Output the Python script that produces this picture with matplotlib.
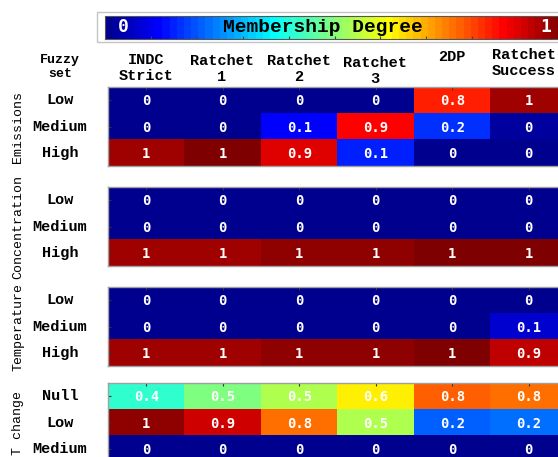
"""Fuzzy membership degrees per scenario, drawn as stacked heatmap panels."""
import numpy as np
import matplotlib
matplotlib.use("Agg")
import matplotlib.pyplot as plt
from matplotlib.colors import ListedColormap
from matplotlib.patches import Rectangle

# ---- Data ----
COLUMNS = ["INDC\nStrict", "Ratchet\n1", "Ratchet\n2", "Ratchet\n3", "2DP", "Ratchet\nSuccess"]
GROUPS = ["Emissions", "Concentration", "Temperature", "T change"]
ROW_SETS = [
    ["Low", "Medium", "High"],
    ["Low", "Medium", "High"],
    ["Low", "Medium", "High"],
    ["Null", "Low", "Medium"],
]
emissions = [
    [0, 0, 0, 0, 0.83, 0.96],
    [0, 0, 0.12, 0.86, 0.17, 0.02],
    [0.96, 1.0, 0.9, 0.147, 0, 0],
]
concentration = [
    [0, 0, 0, 0, 0, 0],
    [0, 0, 0, 0, 0, 0],
    [0.96, 0.96, 0.975, 0.975, 1.0, 1.0],
]
temperature = [
    [0, 0, 0, 0, 0, 0],
    [0, 0, 0, 0, 0, 0.07],
    [0.96, 0.96, 0.975, 0.975, 1.0, 0.93],
]
t_change = [
    [0.41, 0.49, 0.54, 0.63, 0.77, 0.76],
    [0.975, 0.91, 0.76, 0.54, 0.21, 0.22],
    [0, 0, 0, 0, 0, 0],
]
PANELS = [emissions, concentration, temperature, t_change]

# ---- Layout (pixels) ----
W, H = 558, 457
LEFT, COL_W, ROW_H = 108, 76.5, 26.4
PANEL_TOP = [87, 187, 287, 383]
HEAD_X = [146, 222, 299, 375, 452, 524]
HEAD_Y = [68, 69, 69, 71, 57, 63]
LABEL_FONT = "Liberation Mono"
NUM_FONT = "DejaVu Sans Mono"


def matlab_jet(m=64):
    n = int(np.ceil(m / 4))
    u = np.concatenate([np.arange(1, n + 1) / n, np.ones(n - 1), np.arange(n, 0, -1) / n])
    g = int(np.ceil(n / 2)) - (1 if m % 4 == 1 else 0) + np.arange(1, len(u) + 1)
    r = g + n
    b = g - n
    J = np.zeros((m, 3))
    J[r[r <= m] - 1, 0] = u[r <= m]
    J[g[g <= m] - 1, 1] = u[g <= m]
    J[b[b > 0] - 1, 2] = u[b > 0]
    return ListedColormap(J)


def px_axes(fig, x0, y0, w, h):
    return fig.add_axes([x0 / W, 1 - (y0 + h) / H, w / W, h / H])


cmap = matlab_jet(64)
fig = plt.figure(figsize=(W / 100, H / 100), dpi=100)

for k, (vals, rows, group) in enumerate(zip(PANELS, ROW_SETS, GROUPS)):
    data = np.array(vals, dtype=float)
    nr, nc = data.shape
    ax = px_axes(fig, LEFT, PANEL_TOP[k], nc * COL_W, nr * ROW_H)
    im = ax.imshow(data, cmap=cmap, vmin=0, vmax=1, aspect="auto", interpolation="nearest")
    for i in range(nr):
        for j in range(nc):
            ax.text(j, i + 0.04, f"{round(data[i, j], 1):g}", ha="center", va="center",
                    color="white", fontsize=10, family=NUM_FONT, fontweight="bold")
    ax.set_xticks(range(nc))
    ax.set_yticks(range(nr))
    ax.tick_params(direction="in", length=2.5, color="#333333", width=0.8,
                   labelleft=False, labelbottom=False, top=True, bottom=False)
    for s in ax.spines.values():
        s.set_color("#a0a0a0")
        s.set_linewidth(1.0)
    # row labels
    for i, name in enumerate(rows):
        fig.text(60 / W, 1 - (PANEL_TOP[k] + (i + 0.5) * ROW_H) / H, name,
                 ha="center", va="center", fontsize=11, family=LABEL_FONT, fontweight="bold")
    fig.text(18 / W, 1 - (PANEL_TOP[k] + nr * ROW_H / 2) / H, group, rotation=90,
             ha="center", va="center", fontsize=9.5, family=LABEL_FONT)

# column headers
for j, name in enumerate(COLUMNS):
    fig.text(HEAD_X[j] / W, 1 - HEAD_Y[j] / H, name, ha="center",
             va="center", fontsize=11, family=LABEL_FONT, fontweight="bold", linespacing=1.15)
fig.text(60 / W, 1 - 67 / H, "Fuzzy\nset", ha="center", va="center", fontsize=9.5,
         family=LABEL_FONT, fontweight="bold", linespacing=1.2)

# colorbar
fig.patches.append(Rectangle((97 / W, 1 - 42.3 / H), 600 / W, 30.6 / H, fill=False,
                             edgecolor="#c4c4c4", linewidth=1.0, transform=fig.transFigure))
cax = px_axes(fig, 105, 15.7, 459, 23.3)
cb = fig.colorbar(im, cax=cax, orientation="horizontal")
cb.outline.set_edgecolor("#555555")
cb.outline.set_linewidth(0.8)
cax.set_xticks(np.arange(0.1, 1.0, 0.1))
cax.tick_params(direction="in", length=2.5, color="#444444", labelbottom=False)
cax.text(0.04, 0.5, "0", transform=cax.transAxes, ha="center", va="center",
         color="white", fontsize=13, family=NUM_FONT, fontweight="bold")
cax.text(0.96, 0.5, "1", transform=cax.transAxes, ha="center", va="center",
         color="white", fontsize=13, family=NUM_FONT, fontweight="bold")
cax.text((323 - 105) / 459, 0.5, "Membership Degree", transform=cax.transAxes,
         ha="center", va="center", color="black", fontsize=14, family=LABEL_FONT,
         fontweight="bold")

fig.savefig("out.png", dpi=100)
